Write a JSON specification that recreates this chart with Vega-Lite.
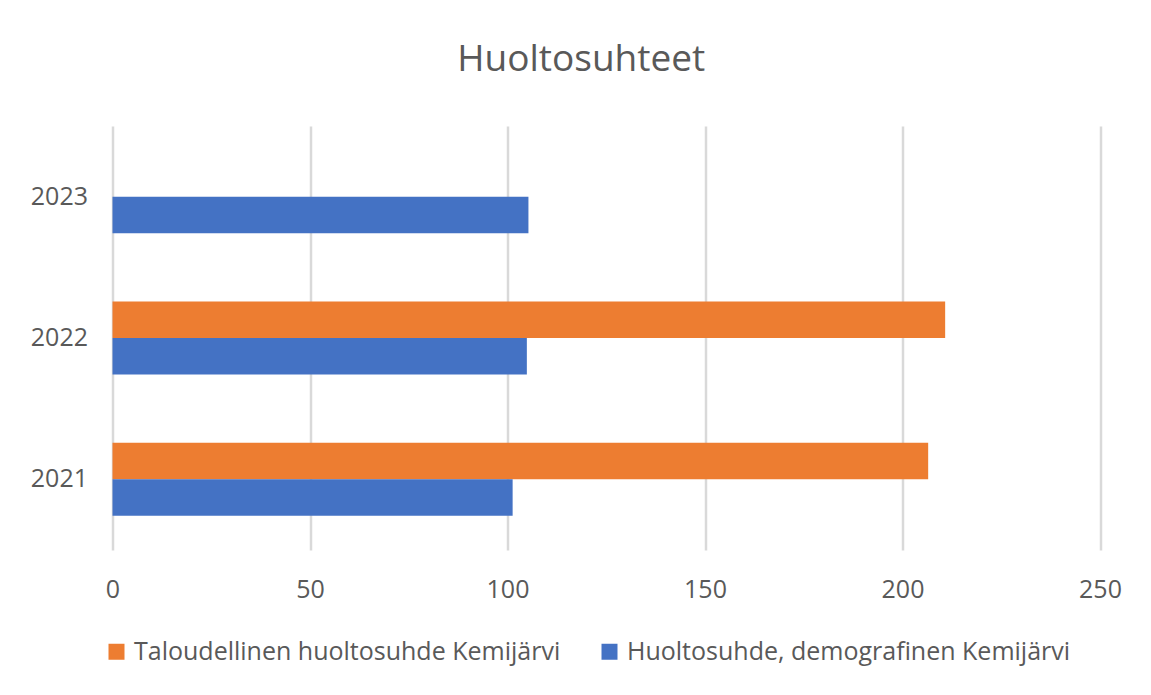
{
  "$schema": "https://vega.github.io/schema/vega-lite/v6.json",
  "autosize": {"type": "none"},
  "width": 987.5,
  "height": 424,
  "padding": {"left": 112.5, "top": 126, "right": 51, "bottom": 145},
  "background": "white",
  "title": {
    "text": "Huoltosuhteet",
    "font": "Open Sans",
    "fontSize": 37,
    "fontWeight": "normal",
    "color": "#595959",
    "anchor": "middle",
    "baseline": "alphabetic",
    "offset": 18,
    "dx": -25
  },
  "data": {
    "values": [
      {"year": "2021", "series": "Taloudellinen huoltosuhde Kemijärvi", "value": 206.5},
      {"year": "2021", "series": "Huoltosuhde, demografinen Kemijärvi", "value": 101.3},
      {"year": "2022", "series": "Taloudellinen huoltosuhde Kemijärvi", "value": 210.8},
      {"year": "2022", "series": "Huoltosuhde, demografinen Kemijärvi", "value": 104.9},
      {"year": "2023", "series": "Huoltosuhde, demografinen Kemijärvi", "value": 105.3}
    ]
  },
  "mark": {"type": "bar"},
  "encoding": {
    "y": {
      "field": "year",
      "type": "nominal",
      "sort": ["2023", "2022", "2021"],
      "scale": {"paddingInner": 0.483, "paddingOuter": 0.2415},
      "axis": {
        "title": null,
        "domain": false,
        "ticks": false,
        "grid": false,
        "labelFont": "Open Sans",
        "labelFontSize": 25,
        "labelColor": "#595959",
        "labelPadding": 25
      }
    },
    "yOffset": {
      "field": "series",
      "type": "nominal",
      "sort": ["Taloudellinen huoltosuhde Kemijärvi", "Huoltosuhde, demografinen Kemijärvi"],
      "scale": {"paddingInner": 0, "paddingOuter": 0}
    },
    "x": {
      "field": "value",
      "type": "quantitative",
      "scale": {"domain": [0, 250], "nice": false},
      "axis": {
        "title": null,
        "values": [0, 50, 100, 150, 200, 250],
        "domain": false,
        "ticks": false,
        "grid": true,
        "gridColor": "#D9D9D9",
        "gridWidth": 2.5,
        "labelFont": "Open Sans",
        "labelFontSize": 25,
        "labelColor": "#595959",
        "labelPadding": 27,
        "labelFlush": false
      }
    },
    "color": {
      "field": "series",
      "type": "nominal",
      "scale": {
        "domain": ["Taloudellinen huoltosuhde Kemijärvi", "Huoltosuhde, demografinen Kemijärvi"],
        "range": ["#ED7D31", "#4472C4"]
      },
      "legend": {
        "title": null,
        "orient": "none",
        "direction": "horizontal",
        "legendX": -8.5,
        "legendY": 513,
        "symbolType": "square",
        "symbolSize": 256,
        "symbolStrokeWidth": 0,
        "symbolOpacity": 1,
        "labelFont": "Open Sans",
        "labelFontSize": 25,
        "labelColor": "#595959",
        "labelOffset": 5,
        "columnPadding": 36,
        "labelLimit": 600
      }
    }
  },
  "config": {
    "view": {"stroke": null}
  }
}
